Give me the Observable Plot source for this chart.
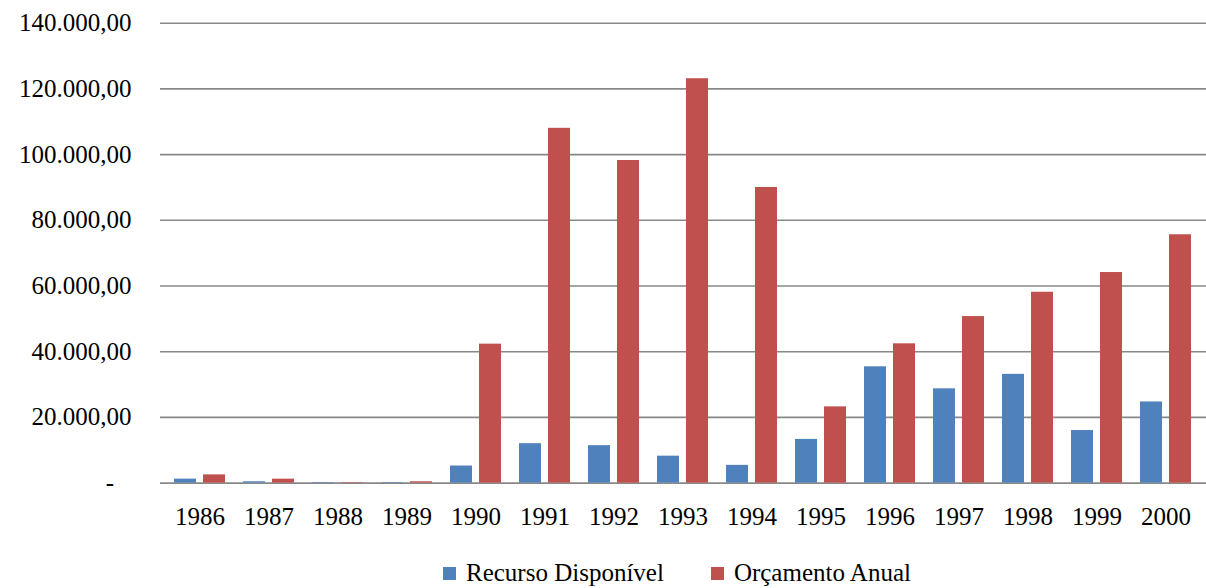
<!DOCTYPE html>
<html>
<head>
<meta charset="utf-8">
<script src="https://cdn.jsdelivr.net/npm/d3@7"></script>
<script src="https://cdn.jsdelivr.net/npm/@observablehq/plot@0.6"></script>
<style>
  html, body { margin: 0; padding: 0; background: #fff; }
  body { position: relative; width: 1206px; height: 588px; overflow: hidden;
         font-family: "Times New Roman", "Liberation Serif", "DejaVu Serif", serif; }
  #chart svg, #chart svg text { font-family: "Times New Roman", "Liberation Serif", "DejaVu Serif", serif !important; }
  #legend { position: absolute; left: 443px; top: 558px; display: flex; align-items: center;
            font-size: 25px; line-height: 30px; color: #000; }
  #legend .item { display: flex; align-items: center; margin-right: 47px; }
  #legend .sw { width: 13px; height: 13px; margin-right: 10px; }
</style>
</head>
<body>
<div id="chart"></div>
<div id="legend"></div>
<script>
// Categories and series
const years = ["1986","1987","1988","1989","1990","1991","1992","1993","1994","1995","1996","1997","1998","1999","2000"];
const seriesNames = ["Recurso Disponível", "Orçamento Anual"];
const seriesColors = ["#4F81BD", "#C0504D"];
const recursoDisponivel = [1200, 400, 150, 150, 5200, 12000, 11400, 8200, 5400, 13300, 35400, 28700, 33100, 16000, 24700];
const orcamentoAnual = [2500, 1200, 150, 400, 42300, 108000, 98200, 123100, 90000, 23200, 42400, 50700, 58100, 64100, 75600];
const yTicks = [0, 20000, 40000, 60000, 80000, 100000, 120000, 140000];

const rows = years.flatMap((year, i) => [
  {year, series: seriesNames[0], value: recursoDisponivel[i]},
  {year, series: seriesNames[1], value: orcamentoAnual[i]}
]);

// Brazilian number format; zero is shown as an accounting dash
const ptBR = d3.formatLocale({decimal: ",", thousands: ".", grouping: [3], currency: ["", ""]});
const fmt = ptBR.format(",.2f");
const tickFormat = d => d === 0 ? "-\u2007\u2009" : fmt(d);

// Each year band holds two side-by-side bars
const groupInset = 29;

const chart = Plot.plot({
  width: 1206,
  height: 540,
  marginLeft: 160,
  marginRight: 0,
  marginTop: 22.7,
  marginBottom: 57.4,
  style: {fontSize: "25px", color: "#000", background: "#fff"},
  x: {domain: years, paddingInner: 0.254, paddingOuter: 0.13, label: null},
  y: {domain: [0, 140000], label: null},
  color: {domain: seriesNames, range: seriesColors},
  marks: [
    Plot.ruleY(yTicks, {stroke: "#888888", strokeWidth: 1.6}),
    Plot.barY(rows.filter(d => d.series === seriesNames[0]),
      {x: "year", y: "value", fill: "series", insetRight: groupInset}),
    Plot.barY(rows.filter(d => d.series === seriesNames[1]),
      {x: "year", y: "value", fill: "series", insetLeft: groupInset}),
    Plot.axisY({ticks: yTicks, tickFormat, tickSize: 0, tickPadding: 29, fontSize: 25, label: null}),
    Plot.axisX({tickSize: 0, tickPadding: 24, fontSize: 25, label: null})
  ]
});
document.getElementById("chart").appendChild(chart);

// Legend below the chart
const legend = document.getElementById("legend");
seriesNames.forEach((name, i) => {
  const item = document.createElement("div");
  item.className = "item";
  const sw = document.createElement("span");
  sw.className = "sw";
  sw.style.background = seriesColors[i];
  const label = document.createElement("span");
  label.textContent = name;
  item.appendChild(sw);
  item.appendChild(label);
  legend.appendChild(item);
});
</script>
</body>
</html>
